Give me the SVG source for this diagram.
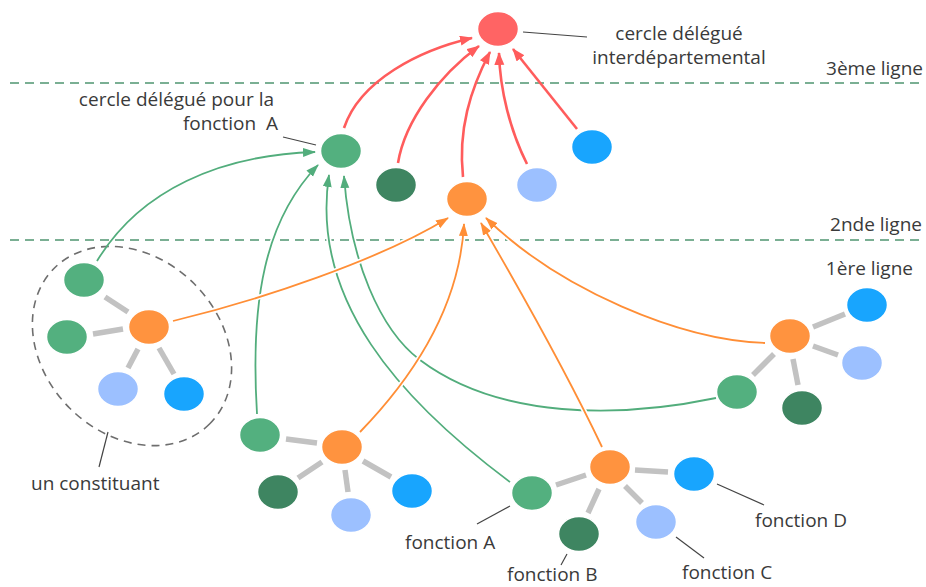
<svg xmlns="http://www.w3.org/2000/svg" width="926" height="587" viewBox="0 0 926 587">
<style>
text{font-family:"Open Sans","Liberation Sans",sans-serif;font-size:19px;fill:#3a3a3a;white-space:pre}
.n{stroke:#fff;stroke-width:1.5}
.red{fill:#ff6464}.grn{fill:#53b07f}.dgr{fill:#3e8561}.org{fill:#ff933f}.lbl{fill:#9cc0ff}.blu{fill:#18a5fe}
.spk{stroke:#c2c2c2;stroke-width:5.5;fill:none}
.dash{stroke:#4f9570;stroke-width:1.6;stroke-dasharray:9 6;fill:none}
.ptr{stroke:#444;stroke-width:1.2;fill:none}
.halo{stroke:#fff;stroke-width:5;fill:none}
.cr{stroke:#ff5c5c;stroke-width:2.6;fill:none;marker-end:url(#ar)}
.cg{stroke:#52ad7c;stroke-width:1.8;fill:none;marker-end:url(#ag)}
.co{stroke:#ff8e36;stroke-width:1.8;fill:none;marker-end:url(#ao)}
</style>
<defs>
<marker id="ar" markerUnits="userSpaceOnUse" markerWidth="14" markerHeight="11" refX="12" refY="5" orient="auto"><path d="M0,0 L13,5 L0,10 z" fill="#ff5c5c"/></marker>
<marker id="ag" markerUnits="userSpaceOnUse" markerWidth="14" markerHeight="11" refX="12" refY="4.5" orient="auto"><path d="M0,0 L13,4.5 L0,9 z" fill="#52ad7c"/></marker>
<marker id="ao" markerUnits="userSpaceOnUse" markerWidth="14" markerHeight="11" refX="12" refY="4.5" orient="auto"><path d="M0,0 L13,4.5 L0,9 z" fill="#ff8e36"/></marker>
</defs>
<rect width="926" height="587" fill="#fff"/>
<g id="levels">
<line class="dash" x1="10" y1="83" x2="924" y2="83"/>
<line class="dash" x1="10" y1="240" x2="924" y2="240"/>
<text x="923" y="75" text-anchor="end">3ème ligne</text>
<text x="922" y="231" text-anchor="end">2nde ligne</text>
<text x="913" y="275" text-anchor="end">1ère ligne</text>
</g>
<g id="constituant-boundary">
<ellipse cx="132" cy="346" rx="110" ry="88" transform="rotate(45 132 346)" fill="none" stroke="#6e6e6e" stroke-width="1.6" stroke-dasharray="8 6"/>
</g>
<g id="spokes">
<line class="spk" x1="105" y1="297" x2="128" y2="312"/>
<line class="spk" x1="93" y1="334" x2="123" y2="329"/>
<line class="spk" x1="128" y1="368" x2="138" y2="349"/>
<line class="spk" x1="159" y1="348" x2="174" y2="374"/>
<line class="spk" x1="286" y1="439" x2="317" y2="443"/>
<line class="spk" x1="298" y1="478" x2="322" y2="462"/>
<line class="spk" x1="345" y1="470" x2="348" y2="492"/>
<line class="spk" x1="363" y1="461" x2="391" y2="477"/>
<line class="spk" x1="556" y1="485" x2="586" y2="475"/>
<line class="spk" x1="588" y1="513" x2="599" y2="489"/>
<line class="spk" x1="625" y1="486" x2="642" y2="503"/>
<line class="spk" x1="635" y1="470" x2="668" y2="472"/>
<line class="spk" x1="813" y1="327" x2="845" y2="314"/>
<line class="spk" x1="813" y1="346" x2="838" y2="355"/>
<line class="spk" x1="753" y1="375" x2="774" y2="354"/>
<line class="spk" x1="793" y1="359" x2="798" y2="385"/>
</g>
<g id="connectors">
<path class="halo" d="M716,398 C620,418 500,420 420,360 C380,330 350,260 344,176"/>
<path class="cg" d="M716,398 C620,418 500,420 420,360 C380,330 350,260 344,176"/>
<path class="halo" d="M765,343 C680,340 560,290 486,218"/>
<path class="co" d="M765,343 C680,340 560,290 486,218"/>
<path class="halo" d="M602,447 C570,380 520,290 481,223"/>
<path class="co" d="M602,447 C570,380 520,290 481,223"/>
<path class="halo" d="M510,482 C400,400 310,300 329,175"/>
<path class="cg" d="M510,482 C400,400 310,300 329,175"/>
<path class="halo" d="M360,432 C420,370 460,300 464,224"/>
<path class="co" d="M360,432 C420,370 460,300 464,224"/>
<path class="halo" d="M257,414 C250,300 265,220 318,165"/>
<path class="cg" d="M257,414 C250,300 265,220 318,165"/>
<path class="halo" d="M173,321 C260,300 380,260 448,218"/>
<path class="co" d="M173,321 C260,300 380,260 448,218"/>
<path class="cg" d="M97,261 C140,190 220,155 315,152"/>
<path class="cr" d="M344,128 C360,80 420,50 472,38"/>
<path class="cr" d="M398,163 C405,120 440,75 479,46"/>
<path class="cr" d="M463,177 C458,130 470,90 490,52"/>
<path class="cr" d="M527,164 C510,130 500,90 499,53"/>
<path class="cr" d="M577,129 L513,49"/>
</g>
<g id="pointers">
<line class="ptr" x1="523" y1="32" x2="587" y2="37"/>
<line class="ptr" x1="283" y1="137" x2="316" y2="145"/>
<line class="ptr" x1="108" y1="432" x2="99" y2="467"/>
<line class="ptr" x1="510" y1="506" x2="477" y2="524"/>
<line class="ptr" x1="567" y1="554" x2="561" y2="565"/>
<line class="ptr" x1="676" y1="537" x2="704" y2="558"/>
<line class="ptr" x1="717" y1="484" x2="764" y2="505"/>
</g>
<g id="n-inter"><ellipse class="n red" cx="498" cy="29" rx="20.5" ry="17.5"/></g>
<g id="n-deleg-A"><ellipse class="n grn" cx="341" cy="151" rx="20.5" ry="17.5"/></g>
<g id="n-deleg-B"><ellipse class="n dgr" cx="396" cy="185" rx="20.5" ry="17.5"/></g>
<g id="n-2nd"><ellipse class="n org" cx="467" cy="199" rx="20.5" ry="17.5"/></g>
<g id="n-deleg-C"><ellipse class="n lbl" cx="537" cy="185" rx="20.5" ry="17.5"/></g>
<g id="n-deleg-D"><ellipse class="n blu" cx="592" cy="147" rx="20.5" ry="17.5"/></g>
<g id="c1">
<ellipse class="n grn" cx="84" cy="280" rx="20.5" ry="17.5"/>
<ellipse class="n grn" cx="67" cy="337" rx="20.5" ry="17.5"/>
<ellipse class="n org" cx="149" cy="327" rx="20.5" ry="17.5"/>
<ellipse class="n lbl" cx="118" cy="389" rx="20.5" ry="17.5"/>
<ellipse class="n blu" cx="184" cy="394" rx="20.5" ry="17.5"/>
</g>
<g id="c2">
<ellipse class="n grn" cx="260" cy="435" rx="20.5" ry="17.5"/>
<ellipse class="n org" cx="342" cy="447" rx="20.5" ry="17.5"/>
<ellipse class="n dgr" cx="278" cy="492" rx="20.5" ry="17.5"/>
<ellipse class="n lbl" cx="351" cy="515" rx="20.5" ry="17.5"/>
<ellipse class="n blu" cx="412" cy="491" rx="20.5" ry="17.5"/>
</g>
<g id="c3">
<ellipse class="n grn" cx="532" cy="493" rx="20.5" ry="17.5"/>
<ellipse class="n org" cx="610" cy="467" rx="20.5" ry="17.5"/>
<ellipse class="n dgr" cx="579" cy="534" rx="20.5" ry="17.5"/>
<ellipse class="n lbl" cx="656" cy="522" rx="20.5" ry="17.5"/>
<ellipse class="n blu" cx="694" cy="474" rx="20.5" ry="17.5"/>
</g>
<g id="c4">
<ellipse class="n blu" cx="867" cy="305" rx="20.5" ry="17.5"/>
<ellipse class="n org" cx="790" cy="336" rx="20.5" ry="17.5"/>
<ellipse class="n lbl" cx="862" cy="363" rx="20.5" ry="17.5"/>
<ellipse class="n grn" cx="737" cy="392" rx="20.5" ry="17.5"/>
<ellipse class="n dgr" cx="802" cy="408" rx="20.5" ry="17.5"/>
</g>
<g id="labels">
<text x="679" y="40" text-anchor="middle">cercle délégué</text>
<text x="679" y="64" text-anchor="middle">interdépartemental</text>
<text x="274" y="106" text-anchor="end">cercle délégué pour la</text>
<text x="278" y="130" text-anchor="end">fonction  A</text>
<text x="31" y="490">un constituant</text>
<text x="405" y="549">fonction A</text>
<text x="507" y="581">fonction B</text>
<text x="682" y="579">fonction C</text>
<text x="755" y="527">fonction D</text>
</g>
</svg>
